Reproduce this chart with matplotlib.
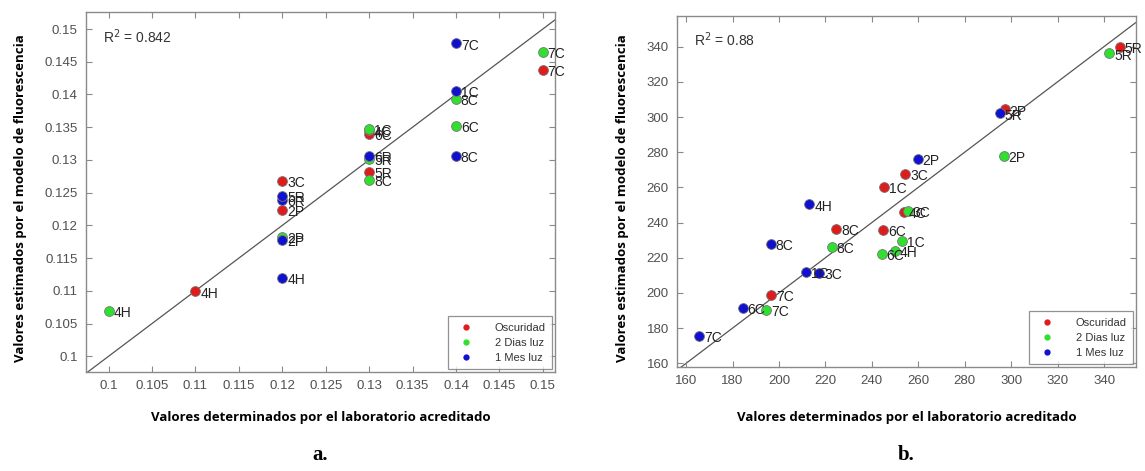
import numpy as np
import matplotlib
matplotlib.use("Agg")
import matplotlib.pyplot as plt
from matplotlib.ticker import FormatStrFormatter, FuncFormatter

# panel a -- lab value vs fluorescence model
a_red_x = [0.11, 0.12, 0.12, 0.13, 0.13, 0.13, 0.15]
a_red_y = [0.1099, 0.1224, 0.1268, 0.1282, 0.1340, 0.1345, 0.1437]
a_red_lab = ['4H', '2P', '3C', '5R', '6C', '4C', '7C']

a_green_x = [0.10, 0.12, 0.13, 0.13, 0.13, 0.14, 0.14, 0.15]
a_green_y = [0.1069, 0.1183, 0.1269, 0.1302, 0.1347, 0.1352, 0.1393, 0.1465]
a_green_lab = ['4H', '2P', '8C', '5R', '1C', '6C', '8C', '7C']

a_blue_x = [0.12, 0.12, 0.12, 0.12, 0.13, 0.14, 0.14, 0.14]
a_blue_y = [0.1120, 0.1178, 0.1239, 0.1245, 0.1306, 0.1306, 0.1406, 0.1478]
a_blue_lab = ['4H', '2P', '6R', '5R', '6R', '8C', '1C', '7C']

# panel b
b_red_x = [196.6, 224.7, 245.3, 245.0, 253.7, 254.4, 297.2, 346.8]
b_red_y = [198.6, 236.3, 260.0, 235.7, 246.1, 267.5, 304.3, 339.9]
b_red_lab = ['7C', '8C', '1C', '6C', '4C', '3C', '2P', '5R']

b_green_x = [194.4, 222.8, 244.3, 249.8, 253.2, 255.4, 296.8, 342.2]
b_green_y = [190.1, 225.9, 221.9, 224.0, 229.7, 246.7, 277.8, 336.1]
b_green_lab = ['7C', '8C', '6C', '4H', '1C', '3C', '2P', '5R']

b_blue_x = [165.7, 184.3, 196.5, 211.6, 217.3, 213.1, 259.7, 295.0]
b_blue_y = [175.7, 191.6, 227.8, 212.0, 211.1, 250.3, 275.9, 302.0]
b_blue_lab = ['7C', '6C', '8C', '1C', '3C', '4H', '2P', '5R']

series_names = ['Oscuridad', '2 Dias luz', '1 Mes luz']
series_colors = ['#e01b1b', '#2fe02f', '#1010d0']

a_ticks = np.arange(0.1, 0.1501, 0.005)
b_ticks = np.arange(160, 341, 20)

fig = plt.figure(figsize=(11.45, 4.71), dpi=100)
ax_a = fig.add_axes([0.0751, 0.2102, 0.4096, 0.7643])
ax_b = fig.add_axes([0.5913, 0.2208, 0.4009, 0.7452])

tick_col = '#505050'
spine_col = '#8a8a8a'


def draw_panel(ax, data, lims, ticks, fmt, r2):
    (x0, x1), (y0, y1) = lims
    ax.plot([min(x0, y0), max(x1, y1)], [min(x0, y0), max(x1, y1)],
            color='#555555', lw=0.9, zorder=1)
    for (xs, ys, labs), name, col in zip(data, series_names, series_colors):
        ax.scatter(xs, ys, s=50, c=col, edgecolors='#777777', linewidths=0.6,
                   zorder=3)
        ax.plot([], [], 'o', color=col, ms=3.5, ls='none', label=name)
        for x, y, t in zip(xs, ys, labs):
            ax.annotate(t, (x, y), xytext=(3.5, -1.5), textcoords='offset points',
                        ha='left', va='center', fontsize=10, color='#222222',
                        family='Liberation Sans', zorder=4)
    ax.set_xlim(x0, x1)
    ax.set_ylim(y0, y1)
    ax.set_xticks(ticks)
    ax.set_yticks(ticks)
    ax.xaxis.set_major_formatter(fmt)
    ax.yaxis.set_major_formatter(fmt)
    ax.tick_params(direction='in', length=4, width=0.8, colors=spine_col,
                   labelcolor=tick_col, labelsize=9.5, top=True, right=True, pad=6)
    for lab in ax.get_xticklabels() + ax.get_yticklabels():
        lab.set_family('Liberation Sans')
    for sp in ax.spines.values():
        sp.set_color(spine_col)
        sp.set_linewidth(1.0)
    ax.text(0.037, 0.915, r2, transform=ax.transAxes, fontsize=10,
            color='#333333', family='Liberation Sans')
    leg = ax.legend(loc='lower right', fontsize=8, frameon=True, fancybox=False,
                    edgecolor='#777777', borderpad=0.6, handletextpad=1.6,
                    labelspacing=0.45, borderaxespad=0.25,
                    prop={'family': 'Liberation Sans', 'size': 8})
    leg.get_frame().set_linewidth(0.9)
    for t in leg.get_texts():
        t.set_color('#333333')


fmt_a = FuncFormatter(lambda v, p: ('%.3f' % v).rstrip('0'))
draw_panel(ax_a,
           [(a_red_x, a_red_y, a_red_lab),
            (a_green_x, a_green_y, a_green_lab),
            (a_blue_x, a_blue_y, a_blue_lab)],
           ((0.0974, 0.1514), (0.0976, 0.1526)), a_ticks, fmt_a,
           r'R$^2$ = 0.842')
draw_panel(ax_b,
           [(b_red_x, b_red_y, b_red_lab),
            (b_green_x, b_green_y, b_green_lab),
            (b_blue_x, b_blue_y, b_blue_lab)],
           ((156.1, 353.8), (157.9, 357.4)), b_ticks, FormatStrFormatter('%d'),
           r'R$^2$ = 0.88')

lab_kw = dict(fontsize=9.5, fontweight='bold', family='Open Sans', color='black')
fig.text(0.0175, 0.58, 'Valores estimados por el modelo de fluorescencia',
         rotation=90, ha='center', va='center', **lab_kw)
fig.text(0.544, 0.58, 'Valores estimados por el modelo de fluorescencia',
         rotation=90, ha='center', va='center', **lab_kw)
fig.text(0.2799, 0.113, 'Valores determinados por el laboratorio acreditado',
         ha='center', va='center', **lab_kw)
fig.text(0.7917, 0.113, 'Valores determinados por el laboratorio acreditado',
         ha='center', va='center', **lab_kw)
fig.text(0.2799, 0.034, 'a.', ha='center', va='center', fontsize=15,
         fontweight='bold', family='Liberation Serif')
fig.text(0.7917, 0.034, 'b.', ha='center', va='center', fontsize=15,
         fontweight='bold', family='Liberation Serif')

fig.savefig('out.png', dpi=100)
